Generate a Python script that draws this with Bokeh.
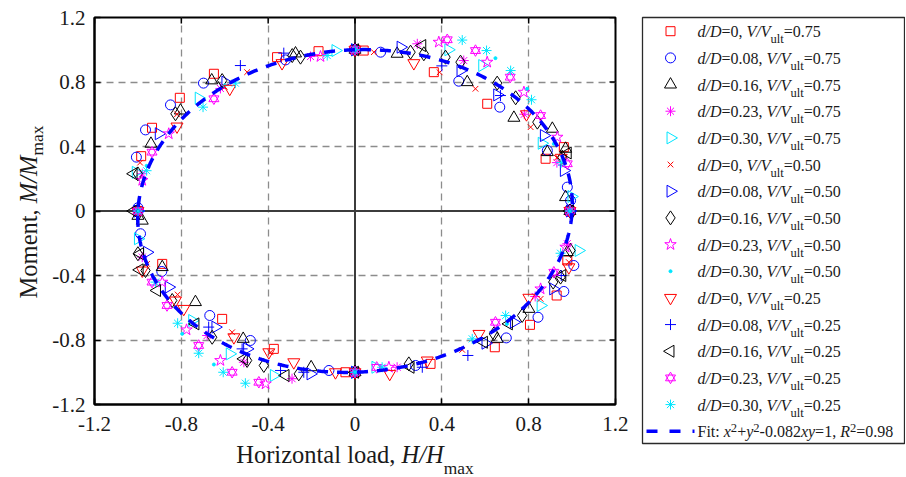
import math
from bokeh.plotting import figure
from bokeh.models import Range1d, FixedTicker, Span
from bokeh.layouts import row, column
from bokeh.core.properties import value
from bokeh.embed import file_html
from bokeh.resources import INLINE

# ---------------- data ----------------
TICKS = [-1.2, -0.8, -0.4, 0, 0.4, 0.8, 1.2]
TICK_LABELS = ["-1.2", "-0.8", "-0.4", "0", "0.4", "0.8", "1.2"]
GRID_TICKS = [-0.8, -0.4, 0.4, 0.8]

D_LABELS = ["0", "0.08", "0.16", "0.23", "0.30"] * 3
V_LABELS = ["0.75"] * 5 + ["0.50"] * 5 + ["0.25"] * 5

s1_h = [0.0, -1.0, 0.99, 0.0, -0.359, -0.168, -0.65, -0.807, -0.935, -0.985, 0.04, 0.363, 0.609, 0.878, 0.962, -0.888, -0.612, -0.374, -0.044, 0.348, 0.644, 0.806, 0.929, 0.978]
s1_m = [1.0, 0.0, 0.0, -1.0, 0.954, 0.991, 0.851, 0.702, 0.516, 0.34, 0.995, 0.861, 0.665, 0.324, 0.396, -0.328, -0.669, -0.855, -1.0, -0.948, -0.845, -0.706, -0.524, -0.307]

s2_h = [0.0, -1.0, 0.993, 0.0, -0.32, -0.698, -0.85, -0.965, -1.007, 0.118, 0.478, 0.667, 0.886, 0.978, 0.993, -0.988, -0.89, -0.669, -0.482, -0.12, 0.279, 0.697, 0.843, 0.962, 1.008]
s2_m = [1.0, 0.02, 0.0, -1.0, 0.937, 0.793, 0.658, 0.503, 0.334, 0.985, 0.805, 0.644, 0.375, 0.148, 0.065, -0.141, -0.375, -0.648, -0.803, -0.989, -0.958, -0.787, -0.659, -0.499, -0.338]

s3_h = [0.0, -1.0, 0.99, 0.0, -0.274, -0.66, -0.804, -0.94, 0.194, 0.517, 0.732, 0.909, 0.886, 0.97, 0.97, -0.888, -0.735, -0.515, -0.202, 0.655, 0.801, 0.978, -0.98]
s3_m = [1.0, -0.03, 0.0, -1.0, 0.977, 0.81, 0.623, 0.417, 0.975, 0.799, 0.578, 0.51, 0.365, 0.386, 0.086, -0.348, -0.565, -0.793, -0.969, -0.793, -0.607, -0.255, -0.06]

s4_h = [0.0, -1.0, 0.99, 0.0, -0.205, -0.98, -0.62, 0.287, 0.501, 0.78, 0.93, -0.98, -0.681, -0.512, -0.29, 0.194, 0.83, 0.978]
s4_m = [1.0, 0.0, 0.0, -1.0, 0.958, 0.231, 0.76, 1.037, 0.933, 0.6, 0.30, -0.286, -0.772, -0.938, -1.04, -0.969, -0.53, -0.203]

s5_h = [0.0, -1.0, 0.997, 0.0, -0.09, -1.01, -0.72, 0.43, 0.586, 0.86, -1.0, -0.75, -0.577, -0.374, 0.094, 0.855, 1.03]
s5_m = [1.0, 0.0, 0.09, -1.0, 0.995, 0.24, 0.70, 1.0, 0.902, 0.42, -0.172, -0.679, -0.886, -1.02, -0.969, -0.586, -0.245]

s6_h = [0.0, -1.0, 0.99, 0.0, -0.497, -0.82, -0.60, -0.99, 0.087, 0.39, 0.555, 0.809, 0.93, -0.958, -0.817, -0.566, -0.389, 0.494, 0.855, 0.985]
s6_m = [1.0, 0.0, 0.0, -1.0, 0.861, 0.60, 0.77, 0.30, 0.985, 0.86, 0.758, 0.52, 0.33, -0.328, -0.518, -0.752, -0.876, -0.861, -0.545, -0.317]

s7_h = [0.0, -1.0, 0.99, 0.0, -0.597, -0.904, 0.21, 0.486, 0.655, 0.87, 0.962, -0.958, -0.858, -0.643, -0.497, -0.205, 0.601, 0.732, 0.913]
s7_m = [1.0, 0.0, 0.0, -1.0, 0.799, 0.479, 1.016, 0.871, 0.72, 0.468, 0.251, -0.256, -0.472, -0.72, -0.855, -1.01, -0.82, -0.69, -0.483]

s8_h = [0.0, -1.0, 0.99, 0.0, -0.251, -0.289, -0.612, -0.827, -1.0, 0.256, 0.317, 0.417, 0.486, 0.655, 0.74, 0.84, 0.955, -1.0, -0.965, -0.842, -0.658, -0.497, -0.42, -0.259, 0.248, 0.64, 0.77, 0.913, 0.947, 0.993]
s8_m = [1.0, 0.0, 0.0, -1.0, 0.954, 0.964, 0.809, 0.603, 0.23, 0.985, 0.975, 0.954, 0.923, 0.793, 0.702, 0.551, 0.334, -0.265, -0.369, -0.555, -0.783, -0.927, -0.958, -1.01, -0.948, -0.762, -0.648, -0.441, -0.41, -0.245]

s9_h = [0.0, -1.0, 0.99, 0.0, -0.159, -0.858, -0.98, 0.386, 0.609, 0.778, 0.932, -0.888, -0.776, -0.62, -0.412, 0.156, 0.855, 0.97]
s9_m = [1.0, 0.0, 0.0, -1.0, 0.958, 0.479, 0.19, 1.047, 0.923, 0.737, 0.458, -0.441, -0.737, -0.927, -1.072, -0.969, -0.483, -0.224]

s10_h = [0.0, -1.0, 0.99, 0.0, -0.96, -0.6, 0.647, 0.793, 0.916, -0.796, -0.65, 0.70]
s10_m = [1.0, 0.0, 0.0, -1.0, 0.28, 0.78, 0.948, 0.758, 0.417, -0.762, -0.952, -0.70]

s11_h = [0.0, -1.0, 0.99, 0.0, -0.336, -0.577, -0.82, 0.271, 0.79, 0.95, -0.98, -0.827, -0.789, -0.558, -0.397, -0.282, -0.09, 0.16, 0.333, 0.571, 0.801, 0.985]
s11_m = [1.0, 0.0, 0.0, -1.0, 0.917, 0.758, 0.524, 0.917, 0.60, 0.33, -0.369, -0.555, -0.607, -0.783, -0.876, -0.938, -1.0, -1.01, -0.927, -0.762, -0.538, -0.349]

s12_h = [0.0, -1.0, 0.99, 0.0, -0.528, -0.328, 0.67, 0.40, -0.674, -0.52, -0.343, -0.236, 0.31, 0.52, 0.95]
s12_m = [1.0, 0.0, 0.0, -1.0, 0.902, 0.979, 0.716, 0.90, -0.72, -0.855, -0.989, -1.0, -0.969, -0.896, -0.40]

s13_h = [0.0, -1.02, 0.99, 0.0, -1.02, 0.31, 0.98, -0.99, -0.992, -0.912, -0.735, -0.512, -0.32, 0.256, 0.594, 0.709, 0.955]
s13_m = [1.0, 0.0, 0.0, -1.0, 0.231, 1.026, 0.36, -0.265, -0.365, -0.493, -0.7, -0.917, -1.02, -0.969, -0.814, -0.7, -0.4]

s14_h = [0.0, -1.0, 0.99, 0.0, -0.65, -0.935, 0.425, 0.555, 0.715, 0.855, 0.978, -0.935, -0.866, -0.72, -0.566, -0.443, 0.1, 0.647, 0.916]
s14_m = [1.0, 0.0, 0.0, -1.0, 0.696, 0.365, 1.062, 0.995, 0.83, 0.592, 0.293, -0.441, -0.586, -0.834, -1.0, -1.062, -0.97, -0.69, -0.38]

s15_h = [0.0, -1.0, 0.99, 0.0, -0.128, -0.551, -0.70, -0.96, 0.494, 0.606, 0.717, 0.813, 0.95, -0.817, -0.919, -0.72, -0.607, -0.505, 0.125, 0.54, 0.694, 0.947]
s15_m = [1.0, 0.0, 0.0, -1.0, 0.964, 0.793, 0.644, 0.25, 1.06, 0.995, 0.871, 0.69, 0.30, -0.696, -0.441, -0.882, -1.0, -1.068, -0.969, -0.793, -0.648, -0.262]

FIT_C = 0.082     # fitted: x^2 + y^2 - c*x*y = 1
FIT_C_LABEL = "0.082"
FIT_R2 = "0.98"

SERIES = [(s1_h, s1_m), (s2_h, s2_m), (s3_h, s3_m), (s4_h, s4_m), (s5_h, s5_m),
          (s6_h, s6_m), (s7_h, s7_m), (s8_h, s8_m), (s9_h, s9_m), (s10_h, s10_m),
          (s11_h, s11_m), (s12_h, s12_m), (s13_h, s13_m), (s14_h, s14_m), (s15_h, s15_m)]

# ---------------- styles ----------------
RED, BLUE, BLK, MAG, CYA = "#FF0000", "#0000FF", "#000000", "#FF00FF", "#00E6FF"
STYLES = [
    [dict(marker="square", size=9, color=RED)],
    [dict(marker="circle", size=10, color=BLUE)],
    [dict(marker="triangle", size=12, color=BLK)],
    [dict(marker="asterisk", size=10, color=MAG)],
    [dict(marker="triangle", size=12, color=CYA, angle=-math.pi / 2)],
    [dict(marker="x", size=8, color=RED)],
    [dict(marker="triangle", size=12, color=BLUE, angle=-math.pi / 2)],
    [dict(marker="diamond", size=14, color=BLK)],
    [dict(marker="star", size=12, color=MAG)],
    [dict(marker="circle", size=3, color=CYA, fill=True)],
    [dict(marker="inverted_triangle", size=12, color=RED)],
    [dict(marker="cross", size=11, color=BLUE)],
    [dict(marker="triangle", size=12, color=BLK, angle=math.pi / 2)],
    [dict(marker="triangle", size=10, color=MAG), dict(marker="inverted_triangle", size=10, color=MAG)],
    [dict(marker="asterisk", size=10, color=CYA)],
]

FONT = "Liberation Serif"
TXT_COLOR = "#1a1a1a"
BASE_FIX = 0.3   # Bokeh draws "alphabetic" text about 0.3 em lower than the nominal anchor
REG = {' ': 250, ',': 250, '-': 333, '.': 250, '/': 278, ':': 278, '=': 564, '+': 564,
       'F': 556, 'H': 722, 'M': 889, 'a': 444, 'd': 500, 'e': 444, 'i': 278, 'l': 278,
       'm': 778, 'n': 500, 'o': 500, 'r': 333, 't': 278, 'u': 500, 'x': 500, 'z': 444}
ITA = {'d': 500, '/': 278, 'D': 722, 'V': 611, 'H': 722, 'M': 833, 'x': 444, 'y': 444, 'R': 611}


def tw(s, size, italic=False):
    tab = ITA if italic else REG
    return sum((500 if c.isdigit() else tab.get(c, 500)) for c in s) / 1000.0 * size


def draw_marker(fig, xs, ys, style):
    for st in style:
        fill = st["color"] if st.get("fill") else None
        fig.scatter(xs, ys, marker=st["marker"], size=st["size"], angle=st.get("angle", 0.0),
                    line_color=st["color"], fill_color=fill, line_width=1)


def bare_fig(w, h, x0=0, x1=None):
    f = figure(width=w, height=h, x_range=Range1d(x0, w if x1 is None else x1), y_range=Range1d(h, 0),
               output_backend="svg", toolbar_location=None,
               x_axis_location=None, y_axis_location=None,
               min_border=0, min_border_left=0, min_border_right=0,
               min_border_top=0, min_border_bottom=0)
    f.grid.visible = False
    f.outline_line_color = None
    f.background_fill_color = "white"
    f.border_fill_color = "white"
    return f


class TextBatch:
    def __init__(self):
        self.groups = {}

    def put(self, txt, x, y, size, style, angle=0.0, align="left"):
        key = (size, style, angle, align)
        g = self.groups.setdefault(key, ([], [], []))
        if angle == 0.0:
            y = y - BASE_FIX * size
        else:
            x = x - BASE_FIX * size
        g[0].append(x)
        g[1].append(y)
        g[2].append(txt)

    def draw(self, fig):
        for (sz, sty, ang, al), (xs, ys, ts) in self.groups.items():
            fig.text(x=xs, y=ys, text=ts, text_font=value(FONT), text_font_size=f"{sz}px",
                     text_font_style=sty, text_color=TXT_COLOR, angle=ang,
                     text_align=al, text_baseline="alphabetic")


# ---------------- page geometry (page pixels) ----------------
PAGE_H = 477
FRAME_L, FRAME_R, FRAME_T, FRAME_B = 94, 615, 17, 404   # page coords of the plot frame
YLAB_W = 46
MAIN_W = 628 - YLAB_W
MAIN_H = 440
XLAB_H = PAGE_H - MAIN_H

# ---------------- main figure ----------------
p = figure(width=MAIN_W, height=MAIN_H, x_range=Range1d(-1.2, 1.2), y_range=Range1d(-1.2, 1.2),
           output_backend="svg", toolbar_location=None,
           min_border_left=FRAME_L - YLAB_W, min_border_right=628 - FRAME_R,
           min_border_top=FRAME_T, min_border_bottom=MAIN_H - FRAME_B)
p.background_fill_color = "white"
p.border_fill_color = "white"
p.outline_line_color = "black"
p.outline_line_width = 2

overrides = {t: lab for t, lab in zip(TICKS, TICK_LABELS)}
for ax in p.axis:
    ax.ticker = FixedTicker(ticks=TICKS)
    ax.major_label_overrides = overrides
    ax.major_tick_in = 6
    ax.major_tick_out = 0
    ax.minor_tick_in = 0
    ax.minor_tick_out = 0
    ax.axis_line_width = 2
    ax.axis_line_color = "black"
    ax.major_tick_line_width = 1.5
    ax.major_tick_line_color = "black"
    ax.major_label_text_font = FONT
    ax.major_label_text_font_size = "21px"
    ax.major_label_text_color = TXT_COLOR
p.below[0].major_label_standoff = 12
p.left[0].major_label_standoff = 9

for g in (p.xgrid, p.ygrid):
    g.ticker = FixedTicker(ticks=GRID_TICKS)
    g.grid_line_color = "#8c8c8c"
    g.grid_line_width = 1.3
    g.grid_line_dash = "7 5"

p.add_layout(Span(location=0, dimension="height", line_color="#3c3c3c", line_width=2, level="underlay"))
p.add_layout(Span(location=0, dimension="width", line_color="#3c3c3c", line_width=2, level="underlay"))

# inward ticks on the top and right edges (box on)
dx_tick = 6 * 2.4 / (FRAME_R - FRAME_L)
dy_tick = 6 * 2.4 / (FRAME_B - FRAME_T)
n = len(TICKS)
lo, hi = TICKS[0], TICKS[-1]
p.segment(x0=TICKS, y0=[hi] * n, x1=TICKS, y1=[hi - dy_tick] * n, line_color="black", line_width=1.5)
p.segment(x0=[hi] * n, y0=TICKS, x1=[hi - dx_tick] * n, y1=TICKS, line_color="black", line_width=1.5)

for (hs, ms), st in zip(SERIES, STYLES):
    draw_marker(p, hs, ms, st)

# fitted curve from the fitted equation (legend)
fx, fy = [], []
for k in range(0, 721):
    th = math.pi / 2 + 2 * math.pi * k / 720
    c, s = math.cos(th), math.sin(th)
    r = 1.0 / math.sqrt(1.0 - FIT_C * c * s)
    fx.append(r * c)
    fy.append(r * s)
p.line(fx, fy, line_color=BLUE, line_width=3.5, line_dash="11 9")

# ---------------- left strip (full height): rotated y title ----------------
F_AX, F_SUB = 24.5, 17.4
ylab = bare_fig(YLAB_W, PAGE_H)
tb = TextBatch()
w1 = tw("Moment, ", F_AX)
w1v = tw("Moment,", F_AX)
w2 = tw("M/M", F_AX, True)
w3 = tw("max", F_SUB)
bottom_page = (FRAME_T + FRAME_B) / 2 + 1 + (w1 + w2 + w3) / 2
ROT = math.pi / 2
tb.put("Moment,", 35, bottom_page - w1v / 2, F_AX, "normal", ROT, "center")
tb.put("M/M", 35, bottom_page - w1 - w2 / 2, F_AX, "italic", ROT, "center")
tb.put("max", 41.5, bottom_page - w1 - w2 - w3 / 2, F_SUB, "normal", ROT, "center")
tb.draw(ylab)

# ---------------- bottom strip: x title ----------------
# inside the column its frame is aligned with the main frame, so map x range to page x of that frame
xlab = bare_fig(MAIN_W, XLAB_H, FRAME_L, FRAME_R)
tb = TextBatch()
w1 = tw("Horizontal load, ", F_AX)
w2 = tw("H/H", F_AX, True)
w3 = tw("max", F_SUB)
x0 = (FRAME_L + FRAME_R) / 2 - (w1 + w2 + w3) / 2
base = 461.7 - MAIN_H
tb.put("Horizontal load, ", x0, base, F_AX, "normal")
tb.put("H/H", x0 + w1, base, F_AX, "italic")
tb.put("max", x0 + w1 + w2, base + 11, F_SUB, "normal")
tb.draw(xlab)

# ---------------- legend figure ----------------
LEG_X0 = 628
LW = 277
lg = bare_fig(LW, PAGE_H)
lg.quad(left=[642 - LEG_X0], right=[904 - LEG_X0], top=[17], bottom=[443],
        fill_color=None, line_color="#2a2a2a", line_width=1.3)

F_LG, F_LS = 16.0, 12.6
ROW0, DY = 30.7, 26.67
MX, TX = 670 - LEG_X0, 697 - LEG_X0
tb = TextBatch()
for i, (st, dl, vl) in enumerate(zip(STYLES, D_LABELS, V_LABELS)):
    yc = ROW0 + i * DY
    draw_marker(lg, [MX], [yc], st)
    yb = yc + 5.5
    x = TX
    pieces = [("d/D", F_LG, "italic", 0), ("=" + dl + ", ", F_LG, "normal", 0),
              ("V/V", F_LG, "italic", 0), ("ult", F_LS, "normal", 6.5), ("=" + vl, F_LG, "normal", 0)]
    for txt, sz, sty, dy in pieces:
        tb.put(txt, x, yb + dy, sz, sty)
        x += tw(txt, sz, sty == "italic")

yc = ROW0 + 15 * DY
lg.line([646 - LEG_X0, 694 - LEG_X0], [yc, yc], line_color=BLUE, line_width=3.5, line_dash="11 12")
yb = yc + 5.5
x = TX
fit_pieces = [("Fit: ", F_LG, "normal", 0), ("x", F_LG, "italic", 0), ("2", F_LS, "normal", -5),
              ("+", F_LG, "normal", 0), ("y", F_LG, "italic", 0), ("2", F_LS, "normal", -5),
              ("-" + FIT_C_LABEL, F_LG, "normal", 0),
              ("xy", F_LG, "italic", 0), ("=1, ", F_LG, "normal", 0), ("R", F_LG, "italic", 0),
              ("2", F_LS, "normal", -5), ("=" + FIT_R2, F_LG, "normal", 0)]
for txt, sz, sty, dy in fit_pieces:
    tb.put(txt, x, yb + dy, sz, sty)
    x += tw(txt, sz, sty == "italic")
tb.draw(lg)

layout = row(ylab, column(p, xlab), lg)
open("out.html", "w").write(file_html(layout, INLINE))
